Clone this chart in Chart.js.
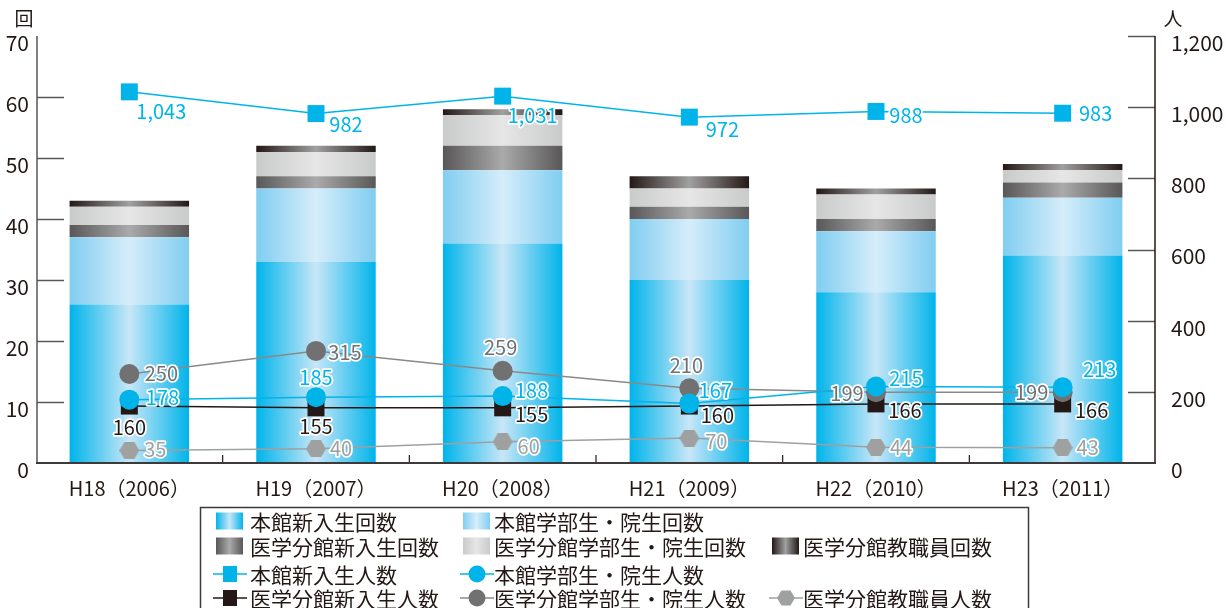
<!DOCTYPE html>
<html>
<head>
<meta charset="utf-8">
<script src="https://cdn.jsdelivr.net/npm/chart.js@4/dist/chart.umd.min.js"></script>
<style>
  html, body { margin: 0; padding: 0; background: #fff; }
  #wrap { width: 1231px; height: 608px; position: relative; overflow: hidden; }
  canvas { display: block; }
</style>
</head>
<body>
<div id="wrap"><canvas id="c" width="1231" height="608"></canvas></div>
<script>
// 年度
const years = ['H18（2006）', 'H19（2007）', 'H20（2008）', 'H21（2009）', 'H22（2010）', 'H23（2011）'];

// 回数（左軸）
const honkanShinnyuKaisu  = [26, 33, 36, 30, 28, 34];
const honkanGakubuKaisu   = [11, 12, 12, 10, 10, 9.5];
const bunkanShinnyuKaisu  = [2, 2, 4, 2, 2, 2.5];
const bunkanGakubuKaisu   = [3, 4, 5, 3, 4, 2];
const bunkanShokuinKaisu  = [1, 1, 1, 2, 1, 1];

// 人数（右軸）
const honkanShinnyuNinzu  = [1043, 982, 1031, 972, 988, 983];
const honkanGakubuNinzu   = [178, 185, 188, 167, 215, 213];
const bunkanShinnyuNinzu  = [160, 155, 155, 160, 166, 166];
const bunkanGakubuNinzu   = [250, 315, 259, 210, 199, 199];
const bunkanShokuinNinzu  = [35, 40, 60, 70, 44, 43];

// 軸目盛
const leftTicks  = [0, 10, 20, 30, 40, 50, 60, 70];
const rightTicks = [0, 200, 400, 600, 800, 1000, 1200];

// 数値ラベルの位置（マーカーからのずれ）
const offHonkanShinnyu = [[32, 20], [30, 11], [30, 19], [33, 12], [30, 4], [33, 0]];
const offHonkanGakubu  = [[33, -2], [0, -20], [29, -6], [26, -13], [30, -8], [37, -18]];
const offBunkanShinnyu = [[0, 21], [0, 19], [29, 7], [28, 9], [29, 6], [29, 6]];
const offBunkanGakubu  = [[32, -1], [29, 1], [-2, -23], [-3, -23], [-29, 1], [-31, 0]];
const offBunkanShokuin = [[26, -1], [25, 0], [26, 5], [27, 3], [25, 0], [25, 0]];

const FONT = '"Noto Sans CJK JP", "Noto Sans", sans-serif';
const TEXT = '#231815';
const CYAN = '#00b4ea';
const BAR_FRACTION = 0.64;

function barGradient(edge, mid) {
  return (c) => {
    const chart = c.chart;
    const xs = chart.scales && chart.scales.x;
    if (!chart.chartArea || !xs || c.type !== 'data') return edge;
    const x = xs.getPixelForValue(c.dataIndex);
    const half = xs.width / years.length * BAR_FRACTION / 2;
    const g = chart.ctx.createLinearGradient(x - half, 0, x + half, 0);
    g.addColorStop(0, edge);
    g.addColorStop(0.5, mid);
    g.addColorStop(1, edge);
    return g;
  };
}

const barStyles = [
  { edge: '#00b4ea', mid: '#c8e6f7' },
  { edge: '#80cdf1', mid: '#d6edfa' },
  { edge: '#595757', mid: '#aaaaaa' },
  { edge: '#c9caca', mid: '#e6e6e6' },
  { edge: '#231815', mid: '#a0a0a0' }
];

// 六角形マーカー
function hexagonCanvas(w, h, color) {
  const cv = document.createElement('canvas');
  cv.width = w; cv.height = h;
  const g = cv.getContext('2d');
  drawHexagon(g, w / 2, h / 2, w, h, color);
  return cv;
}
function drawHexagon(g, cx, cy, w, h, color) {
  g.beginPath();
  g.moveTo(cx - w / 2, cy);
  g.lineTo(cx - w / 4, cy - h / 2);
  g.lineTo(cx + w / 4, cy - h / 2);
  g.lineTo(cx + w / 2, cy);
  g.lineTo(cx + w / 4, cy + h / 2);
  g.lineTo(cx - w / 4, cy + h / 2);
  g.closePath();
  g.fillStyle = color;
  g.fill();
}
const hexMarker = hexagonCanvas(20, 17, '#9fa0a0');

function barSet(label, data, style) {
  return {
    type: 'bar', label, data, yAxisID: 'y', stack: 's', order: 10,
    backgroundColor: barGradient(style.edge, style.mid),
    borderWidth: 0,
    categoryPercentage: 1, barPercentage: BAR_FRACTION
  };
}
function lineSet(label, data, opts) {
  return Object.assign({
    type: 'line', label, data, yAxisID: 'y2',
    borderWidth: 1.5, fill: false, tension: 0,
    pointBorderWidth: 0
  }, opts);
}

const datasets = [
  barSet('本館新入生回数', honkanShinnyuKaisu, barStyles[0]),
  barSet('本館学部生・院生回数', honkanGakubuKaisu, barStyles[1]),
  barSet('医学分館新入生回数', bunkanShinnyuKaisu, barStyles[2]),
  barSet('医学分館学部生・院生回数', bunkanGakubuKaisu, barStyles[3]),
  barSet('医学分館教職員回数', bunkanShokuinKaisu, barStyles[4]),
  lineSet('医学分館教職員人数', bunkanShokuinNinzu, {
    order: 5, borderColor: '#9fa0a0', pointStyle: hexMarker,
    labelOffsets: offBunkanShokuin, labelColor: '#9fa0a0'
  }),
  lineSet('医学分館新入生人数', bunkanShinnyuNinzu, {
    order: 4, borderColor: TEXT, backgroundColor: TEXT,
    pointStyle: 'rect', pointRadius: 12,
    labelOffsets: offBunkanShinnyu, labelColor: TEXT
  }),
  lineSet('医学分館学部生・院生人数', bunkanGakubuNinzu, {
    order: 3, borderColor: '#898989', backgroundColor: '#727171',
    pointStyle: 'circle', pointRadius: 10,
    labelOffsets: offBunkanGakubu, labelColor: '#727171'
  }),
  lineSet('本館学部生・院生人数', honkanGakubuNinzu, {
    order: 2, borderColor: CYAN, backgroundColor: CYAN,
    pointStyle: 'circle', pointRadius: 10,
    labelOffsets: offHonkanGakubu, labelColor: CYAN
  }),
  lineSet('本館新入生人数', honkanShinnyuNinzu, {
    order: 1, borderColor: CYAN, backgroundColor: CYAN,
    pointStyle: 'rect', pointRadius: 12,
    labelOffsets: offHonkanShinnyu, labelColor: CYAN
  })
];

function strokeLine(ctx, x1, y1, x2, y2) {
  ctx.beginPath(); ctx.moveTo(x1, y1); ctx.lineTo(x2, y2); ctx.stroke();
}

// 軸線と目盛線
const axisLines = {
  id: 'axisLines',
  beforeDatasetsDraw(chart) {
    const { ctx, chartArea: a, scales } = chart;
    ctx.save();
    ctx.lineWidth = 1.5;
    ctx.strokeStyle = '#595757';
    strokeLine(ctx, a.left + 1, a.top, a.left + 1, a.bottom);
    leftTicks.forEach(v => {
      if (v === 0 || v === leftTicks[leftTicks.length - 1]) return;
      const y = Math.round(scales.y.getPixelForValue(v)) + 0.5;
      strokeLine(ctx, a.left + 1, y, a.left + 28, y);
    });
    rightTicks.forEach(v => {
      if (v === 0) return;
      const y = Math.round(scales.y2.getPixelForValue(v)) + 0.5;
      strokeLine(ctx, a.right - 28, y, a.right - 1, y);
    });
    ctx.strokeStyle = TEXT;
    strokeLine(ctx, a.right - 1, a.top, a.right - 1, a.bottom);
    ctx.lineWidth = 1.2;
    for (let i = 1; i < years.length; i++) {
      const x = (scales.x.getPixelForValue(i - 1) + scales.x.getPixelForValue(i)) / 2;
      strokeLine(ctx, x, a.bottom - 8, x, a.bottom);
    }
    ctx.restore();
  },
  afterDatasetsDraw(chart) {
    const { ctx, chartArea: a } = chart;
    ctx.save();
    ctx.strokeStyle = '#3e3a39';
    ctx.lineWidth = 2;
    strokeLine(ctx, a.left, a.bottom, a.right, a.bottom);
    ctx.restore();
  }
};

// 数値ラベル（白縁付き）
const valueLabels = {
  id: 'valueLabels',
  afterDatasetsDraw(chart) {
    const ctx = chart.ctx;
    ctx.save();
    ctx.font = '20px ' + FONT;
    ctx.textAlign = 'center';
    ctx.textBaseline = 'middle';
    ctx.lineJoin = 'round';
    chart.data.datasets.forEach((ds, di) => {
      if (!ds.labelOffsets) return;
      const meta = chart.getDatasetMeta(di);
      meta.data.forEach((pt, i) => {
        const [dx, dy] = ds.labelOffsets[i];
        const text = ds.data[i].toLocaleString('en-US');
        ctx.lineWidth = 3.5;
        ctx.strokeStyle = '#ffffff';
        ctx.strokeText(text, pt.x + dx, pt.y + dy);
        ctx.fillStyle = ds.labelColor;
        ctx.fillText(text, pt.x + dx, pt.y + dy);
      });
    });
    ctx.restore();
  }
};

// 単位と凡例
const unitsAndLegend = {
  id: 'unitsAndLegend',
  afterDraw(chart) {
    const ctx = chart.ctx;
    ctx.save();
    ctx.fillStyle = TEXT;
    ctx.textBaseline = 'middle';
    ctx.textAlign = 'center';
    ctx.font = '19px ' + FONT;
    ctx.fillText('回', 24, 19);
    ctx.fillText('人', 1173, 19);

    // 枠
    ctx.strokeStyle = '#3e3a39';
    ctx.lineWidth = 1.5;
    ctx.strokeRect(200.5, 507.5, 828, 120);

    const ds = chart.data.datasets;
    const byLabel = name => ds.find(d => d.label === name);
    const colIcon = [216, 463, 772];
    const colText = [250, 494, 803];
    const rows = [521, 546, 574, 598];
    const items = [
      { r: 0, c: 0, label: '本館新入生回数', bar: barStyles[0] },
      { r: 0, c: 1, label: '本館学部生・院生回数', bar: barStyles[1] },
      { r: 1, c: 0, label: '医学分館新入生回数', bar: barStyles[2] },
      { r: 1, c: 1, label: '医学分館学部生・院生回数', bar: barStyles[3] },
      { r: 1, c: 2, label: '医学分館教職員回数', bar: barStyles[4] },
      { r: 2, c: 0, label: '本館新入生人数' },
      { r: 2, c: 1, label: '本館学部生・院生人数' },
      { r: 3, c: 0, label: '医学分館新入生人数' },
      { r: 3, c: 1, label: '医学分館学部生・院生人数' },
      { r: 3, c: 2, label: '医学分館教職員人数' }
    ];
    items.forEach(it => {
      const y = rows[it.r];
      const x0 = colIcon[it.c];
      if (it.bar) {
        const g = ctx.createLinearGradient(x0, 0, x0 + 27, 0);
        g.addColorStop(0, it.bar.edge);
        g.addColorStop(0.5, it.bar.mid);
        g.addColorStop(1, it.bar.edge);
        ctx.fillStyle = g;
        ctx.fillRect(x0, y - 8.5, 27, 17);
      } else {
        const d = byLabel(it.label);
        const cx = x0 + 14;
        ctx.strokeStyle = d.borderColor;
        ctx.lineWidth = 1.5;
        strokeLine(ctx, x0 - 3, y, x0 + 31, y);
        if (d.pointStyle === 'rect') {
          ctx.fillStyle = d.backgroundColor;
          ctx.fillRect(cx - 7, y - 8, 14, 16);
        } else if (d.pointStyle === 'circle') {
          ctx.fillStyle = d.backgroundColor;
          ctx.beginPath(); ctx.arc(cx, y, 8.5, 0, Math.PI * 2); ctx.fill();
        } else {
          drawHexagon(ctx, cx, y, 18, 15, '#9fa0a0');
        }
      }
      ctx.fillStyle = TEXT;
      ctx.textAlign = 'left';
      ctx.font = '21px ' + FONT;
      ctx.fillText(it.label, colText[it.c], y + 1);
    });
    ctx.restore();
  }
};

new Chart(document.getElementById('c'), {
  data: { labels: years, datasets },
  options: {
    responsive: false,
    devicePixelRatio: 1,
    animation: false,
    events: [],
    layout: { padding: { top: 36, left: 0, right: 0, bottom: 0 } },
    plugins: { legend: { display: false }, tooltip: { enabled: false } },
    scales: {
      x: {
        stacked: true,
        grid: { display: false, drawTicks: false },
        border: { display: false },
        ticks: { color: TEXT, font: { family: FONT, size: 20 }, padding: 13, maxRotation: 0, autoSkip: false },
        afterFit: s => { s.height = 145; }
      },
      y: {
        position: 'left', stacked: true, min: 0, max: 70,
        grid: { display: false, drawTicks: false },
        border: { display: false },
        afterBuildTicks: s => { s.ticks = leftTicks.map(v => ({ value: v })); },
        ticks: { color: TEXT, font: { family: FONT, size: 21 }, padding: 7, labelOffset: 7 },
        afterFit: s => { s.width = 36; }
      },
      y2: {
        position: 'right', stacked: false, min: 0, max: 1200,
        grid: { display: false, drawTicks: false },
        border: { display: false },
        afterBuildTicks: s => { s.ticks = rightTicks.map(v => ({ value: v })); },
        ticks: {
          color: TEXT, font: { family: FONT, size: 21 }, padding: 15, labelOffset: 7,
          callback: v => Number(v).toLocaleString('en-US')
        },
        afterFit: s => { s.width = 75; }
      }
    }
  },
  plugins: [axisLines, valueLabels, unitsAndLegend]
});
</script>
</body>
</html>
